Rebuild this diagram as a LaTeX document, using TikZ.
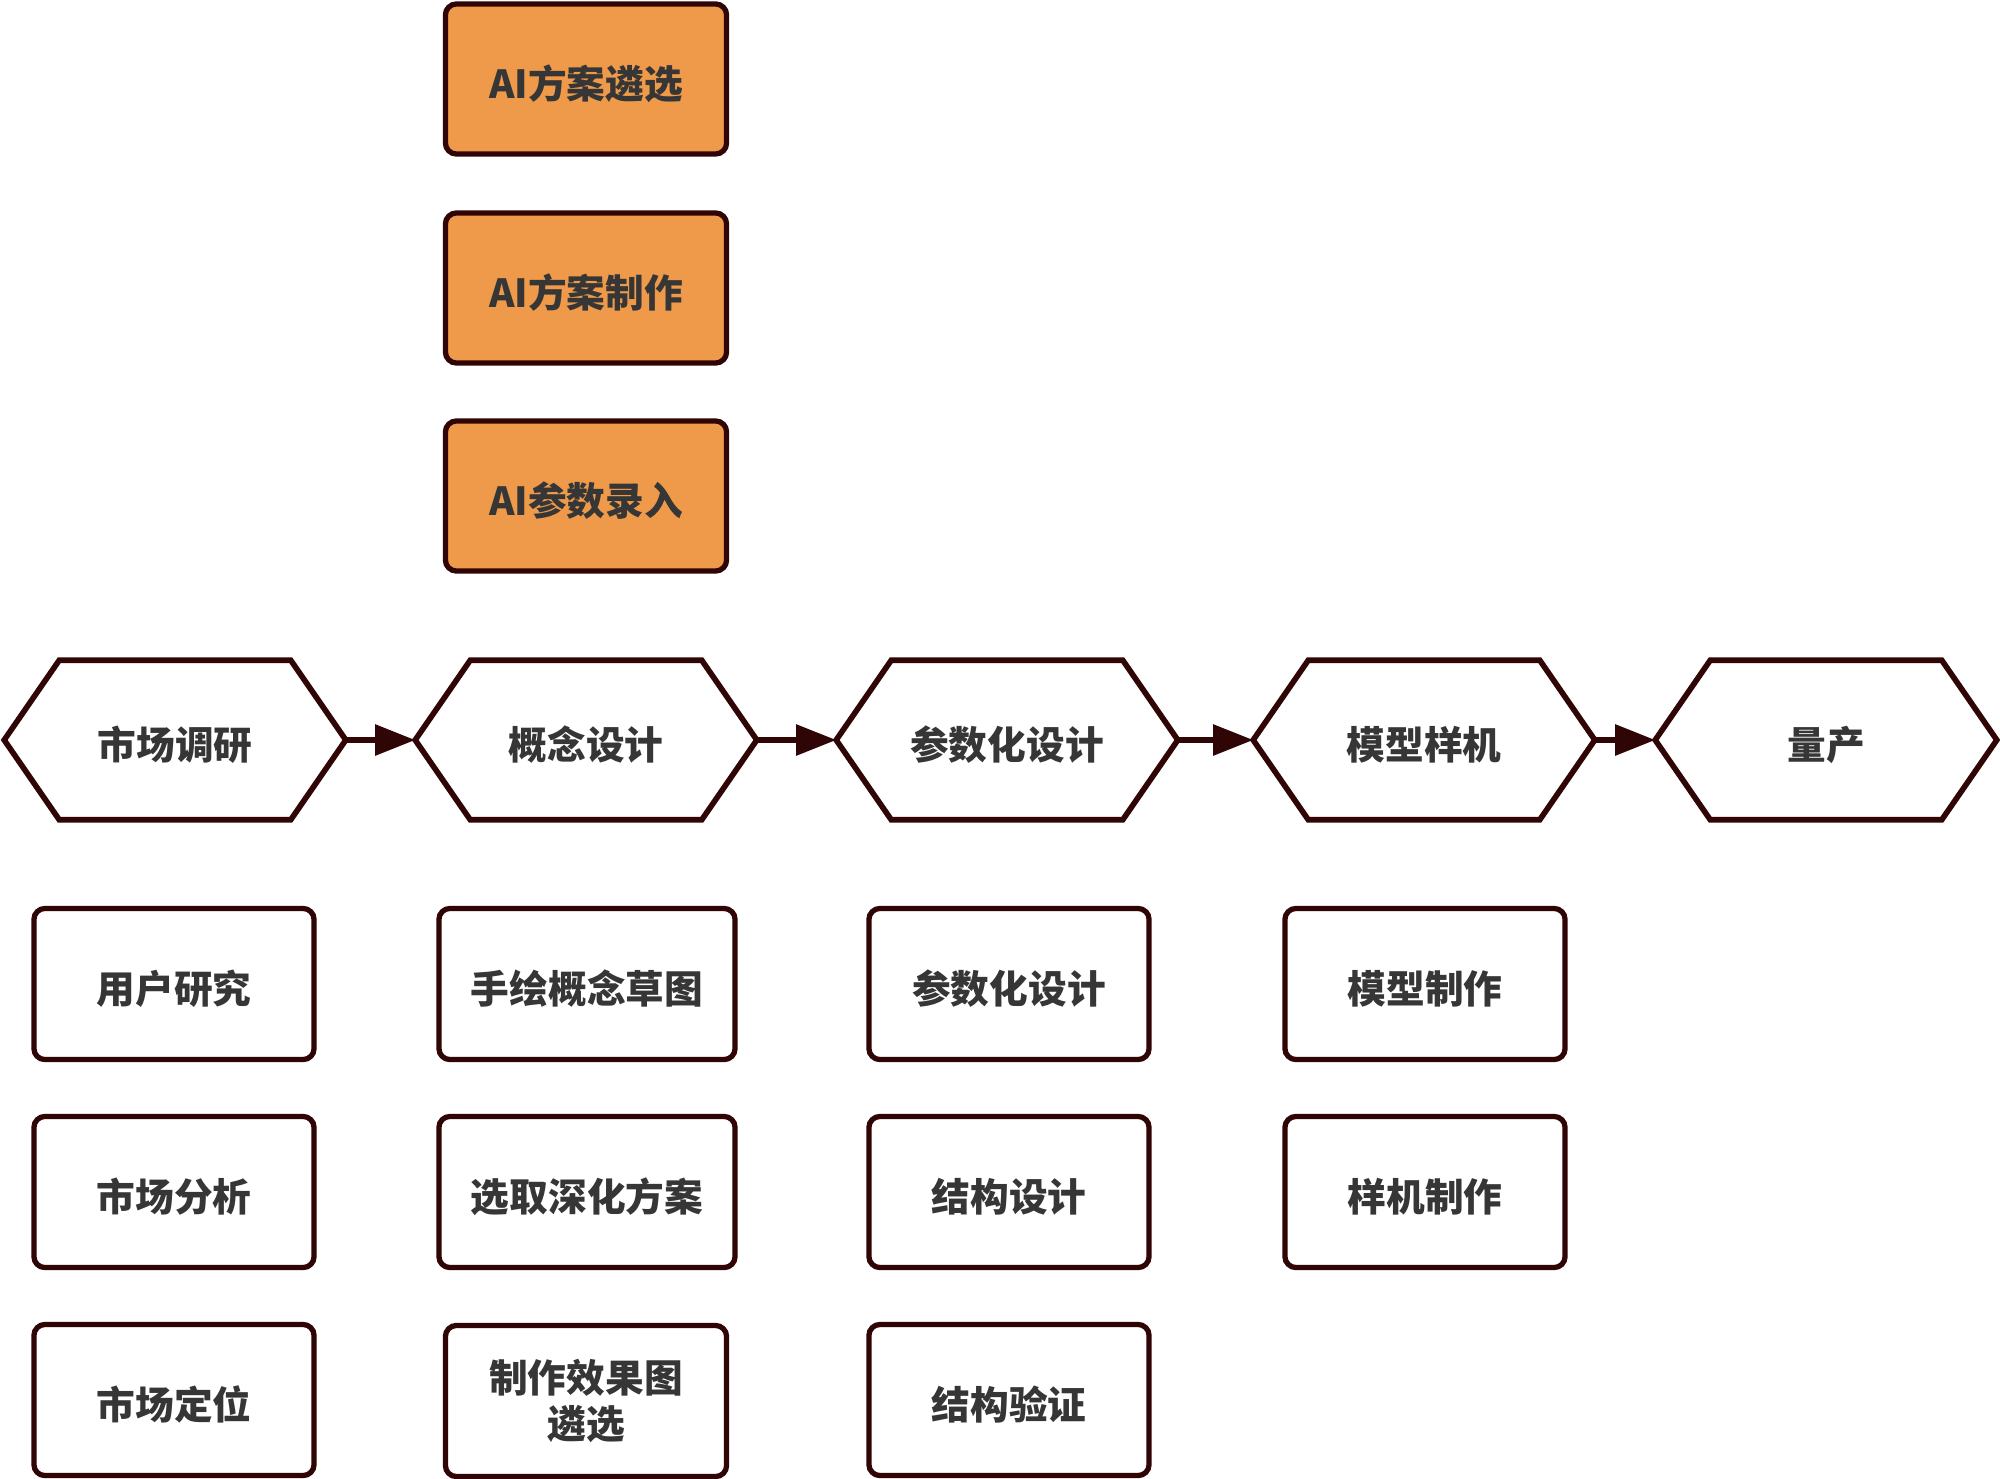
\documentclass[tikz,border=0pt]{standalone}
\usepackage{fontspec}
\newfontfamily\cjk{Noto Sans CJK SC}
\usetikzlibrary{arrows.meta}
\definecolor{edge}{HTML}{300505}
\definecolor{orangefill}{HTML}{EE9A4A}
\definecolor{txt}{HTML}{363636}
\begin{document}
\begin{tikzpicture}[x=0.01cm,y=-0.01cm,
  lbl/.style={font=\cjk\bfseries\fontsize{11pt}{13.2pt}\selectfont, text=txt, align=center, inner sep=0pt},
  one/.style={text height=12.6pt, text depth=1.3pt},
  box/.style={lbl, draw=edge, line width=1.5pt, rounded corners=0.11cm, fill=white},
  aibox/.style={box, one, fill=orangefill, minimum width=2.81cm, minimum height=1.5cm},
  cbox/.style={box, minimum width=2.8cm, minimum height=1.51cm},
  wbox/.style={box, minimum width=2.96cm, minimum height=1.51cm},
  hexnode/.style={lbl, one, minimum width=3.4cm, minimum height=1.58cm},
  hexline/.style={draw=edge, line width=1.6pt, line join=miter},
  arr/.style={draw=edge, line width=1.6pt, -{Triangle[length=0.4cm,width=0.3cm]}}
]
\useasboundingbox[fill=white] (0,0) rectangle (2000,1479);

% AI boxes
\node[aibox] (a1) at (586,79) {AI方案遴选};
\node[aibox] (a2) at (586,288) {AI方案制作};
\node[aibox] (a3) at (586,496) {AI参数录入};

% hexagons
\node[hexnode] (h1) at (175,740) {市场调研};
\node[hexnode] (h2) at (586,740) {概念设计};
\node[hexnode] (h3) at (1007,740) {参数化设计};
\node[hexnode] (h4) at (1424,740) {模型样机};
\node[hexnode] (h5) at (1826,740) {量产};
\foreach \h in {h1,h2,h3,h4,h5}{
  \draw[hexline] (\h.west) -- ([xshift=0.55cm]\h.north west) -- ([xshift=-0.55cm]\h.north east)
     -- (\h.east) -- ([xshift=-0.55cm]\h.south east) -- ([xshift=0.55cm]\h.south west) -- cycle;
}
\draw[arr] (h1.east) -- (h2.west);
\draw[arr] (h2.east) -- (h3.west);
\draw[arr] (h3.east) -- (h4.west);
\draw[arr] (h4.east) -- (h5.west);

% column 1
\node[cbox, one] (b11) at (174,984) {用户研究};
\node[cbox, one] (b12) at (174,1192) {市场分析};
\node[cbox, one] (b13) at (174,1400) {市场定位};
% column 2
\node[wbox, one] (b21) at (587,984) {手绘概念草图};
\node[wbox, one] (b22) at (587,1192) {选取深化方案};
\node[box, minimum width=2.81cm, minimum height=1.51cm] (b23) at (586,1401) {制作效果图\\遴选};
% column 3
\node[cbox, one] (b31) at (1009,984) {参数化设计};
\node[cbox, one] (b32) at (1009,1192) {结构设计};
\node[cbox, one] (b33) at (1009,1400) {结构验证};
% column 4
\node[cbox, one] (b41) at (1425,984) {模型制作};
\node[cbox, one] (b42) at (1425,1192) {样机制作};
\end{tikzpicture}
\end{document}
